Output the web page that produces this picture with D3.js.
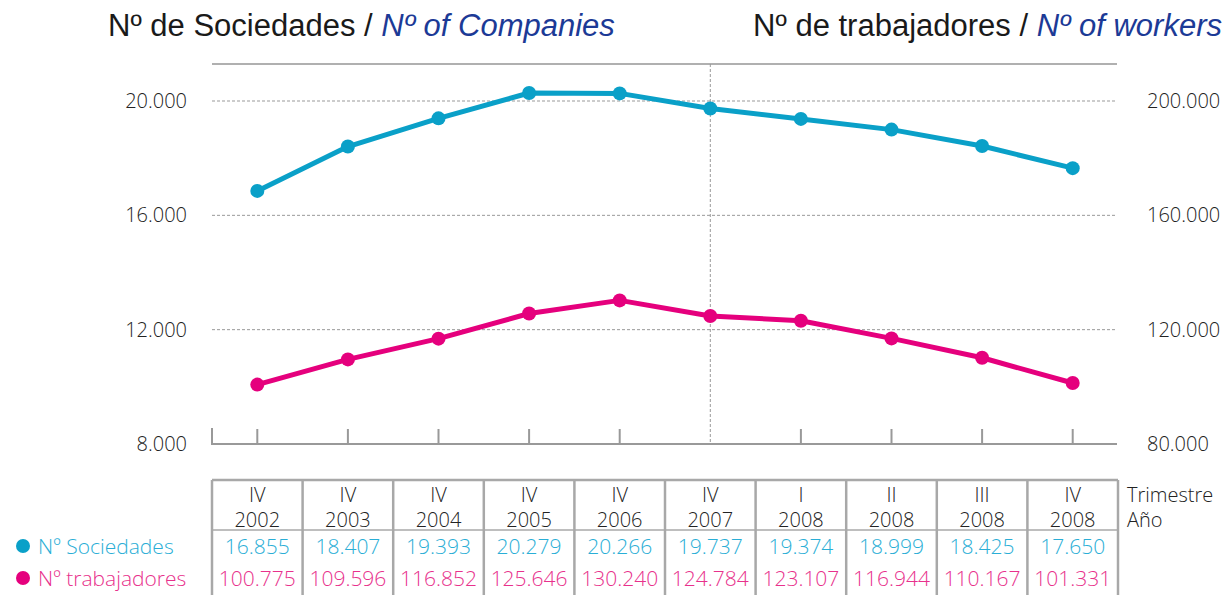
<!DOCTYPE html>
<html>
<head>
<meta charset="utf-8">
<script src="https://cdn.jsdelivr.net/npm/d3@7"></script>
<style>
  body { margin: 0; background: #fff; }
  text { font-family: "Open Sans", sans-serif; font-weight: 300; }
  .title { font-family: "Liberation Sans", Arial, sans-serif; font-weight: 400; font-size: 31px; }
</style>
</head>
<body>
<div id="chart"></div>
<script>
const quarters = ["IV", "IV", "IV", "IV", "IV", "IV", "I", "II", "III", "IV"];
const years = ["2002", "2003", "2004", "2005", "2006", "2007", "2008", "2008", "2008", "2008"];
const companies = [16855, 18407, 19393, 20279, 20266, 19737, 19374, 18999, 18425, 17650];
const workers = [100775, 109596, 116852, 125646, 130240, 124784, 123107, 116944, 110167, 101331];
const leftTicks = [8000, 12000, 16000, 20000];
const rightTicks = [80000, 120000, 160000, 200000];

function main() {
    const width = 1230, height = 595;
    const cyan = "#0aa0c8", cyanText = "#2aaed6";
    const magenta = "#e5007d", magentaText = "#e8318c";
    const navy = "#1c3a96";

    const es = d3.formatLocale({decimal: ",", thousands: ".", grouping: [3], currency: ["", "€"]});
    const fmt = es.format(",d");

    const svg = d3.select("#chart").append("svg")
        .attr("width", width)
        .attr("height", height);

    const idx = d3.range(quarters.length);
    const x = d3.scaleBand().domain(idx).range([212, 1118]);
    const cx = i => x(i) + x.bandwidth() / 2;

    const yL = d3.scaleLinear().domain([8000, 20000]).range([444, 101]);
    const yR = d3.scaleLinear().domain([80000, 200000]).range([444, 101]);

    // titles
    const t1 = svg.append("text").attr("class", "title").attr("x", 108).attr("y", 36).attr("fill", "#1a1a1a");
    t1.append("tspan").text("Nº de Sociedades / ");
    t1.append("tspan").text("Nº of Companies").attr("fill", navy).style("font-style", "italic");

    const t2 = svg.append("text").attr("class", "title").attr("x", 1222).attr("y", 36)
        .attr("text-anchor", "end").attr("fill", "#1a1a1a");
    t2.append("tspan").text("Nº de trabajadores / ");
    t2.append("tspan").text("Nº of workers").attr("fill", navy).style("font-style", "italic");

    // top frame line
    svg.append("line").attr("x1", 212).attr("x2", 1117).attr("y1", 64).attr("y2", 64)
        .attr("stroke", "#b0b0b0").attr("stroke-width", 2);

    // dashed gridlines
    svg.selectAll(".grid").data(leftTicks.slice(1)).enter().append("line")
        .attr("x1", 212).attr("x2", 1117)
        .attr("y1", d => yL(d)).attr("y2", d => yL(d))
        .attr("stroke", "#999").attr("stroke-width", 1).attr("stroke-dasharray", "3,2");

    // dashed vertical at IV 2007
    svg.append("line").attr("x1", cx(5)).attr("x2", cx(5)).attr("y1", 64).attr("y2", 444)
        .attr("stroke", "#999").attr("stroke-width", 1).attr("stroke-dasharray", "3,2");

    // bottom axis with ticks
    const xAxis = svg.append("g").attr("transform", "translate(0,444)")
        .call(d3.axisTop(x).tickSize(15).tickFormat(""));
    xAxis.select(".domain").attr("d", "M212,-16V0H1117").attr("stroke", "#999").attr("stroke-width", 2).attr("fill", "none");
    xAxis.selectAll(".tick line").attr("stroke", "#999").attr("stroke-width", 2);
    xAxis.selectAll(".tick").filter(d => d === 5).select("line").remove();

    // y labels
    svg.selectAll(".ly").data(leftTicks).enter().append("text")
        .attr("x", 187).attr("y", d => yL(d)).attr("dy", "0.35em").attr("text-anchor", "end")
        .style("font-size", "20px").attr("fill", "#222").text(d => fmt(d));
    svg.selectAll(".ry").data(rightTicks).enter().append("text")
        .attr("x", 1147).attr("y", d => yR(d)).attr("dy", "0.35em")
        .style("font-size", "20px").attr("fill", "#222").text(d => fmt(d));

    // lines + dots
    const series = [
        {vals: companies, y: yL, color: cyan},
        {vals: workers, y: yR, color: magenta}
    ];
    series.forEach(s => {
        svg.append("path").datum(s.vals)
            .attr("d", d3.line().x((d, i) => cx(i)).y(d => s.y(d)))
            .attr("fill", "none").attr("stroke", s.color).attr("stroke-width", 5)
            .attr("stroke-linejoin", "round");
        svg.selectAll(null).data(s.vals).enter().append("circle")
            .attr("cx", (d, i) => cx(i)).attr("cy", d => s.y(d)).attr("r", 7)
            .attr("fill", s.color);
    });

    // table
    const tTop = 480, tMid = 530;
    const grid = svg.append("g").attr("stroke", "#a8a8a8").attr("stroke-width", 2.5);
    grid.append("line").attr("x1", 212).attr("x2", 1118).attr("y1", tTop).attr("y2", tTop);
    grid.append("line").attr("x1", 212).attr("x2", 1118).attr("y1", tMid).attr("y2", tMid).attr("stroke-width", 1.5);
    grid.selectAll(null).data(idx.concat([idx.length])).enter().append("line")
        .attr("x1", i => i < idx.length ? x(i) : 1118).attr("x2", i => i < idx.length ? x(i) : 1118)
        .attr("y1", tTop).attr("y2", height);

    const cell = (arr, y, color, size) => svg.selectAll(null).data(arr).enter().append("text")
        .attr("x", (d, i) => cx(i)).attr("y", y).attr("text-anchor", "middle")
        .style("font-size", size).attr("fill", color).text(d => d);
    cell(quarters, 502, "#222", "20px");
    cell(years, 527, "#222", "20px");
    cell(companies.map(fmt), 554, cyanText, "21px");
    cell(workers.map(fmt), 586, magentaText, "21px");

    svg.append("text").attr("x", 1127).attr("y", 502).style("font-size", "20px").attr("fill", "#222").text("Trimestre");
    svg.append("text").attr("x", 1127).attr("y", 527).style("font-size", "20px").attr("fill", "#222").text("Año");

    // row legends
    const legend = [
        {label: "Nº Sociedades", color: cyan, text: cyanText, y: 546},
        {label: "Nº trabajadores", color: magenta, text: magentaText, y: 578}
    ];
    legend.forEach(l => {
        svg.append("circle").attr("cx", 23).attr("cy", l.y).attr("r", 7).attr("fill", l.color);
        svg.append("text").attr("x", 38).attr("y", l.y).attr("dy", "0.36em")
            .style("font-size", "21px").attr("fill", l.text).text(l.label);
    });
}
main();
</script>
</body>
</html>
